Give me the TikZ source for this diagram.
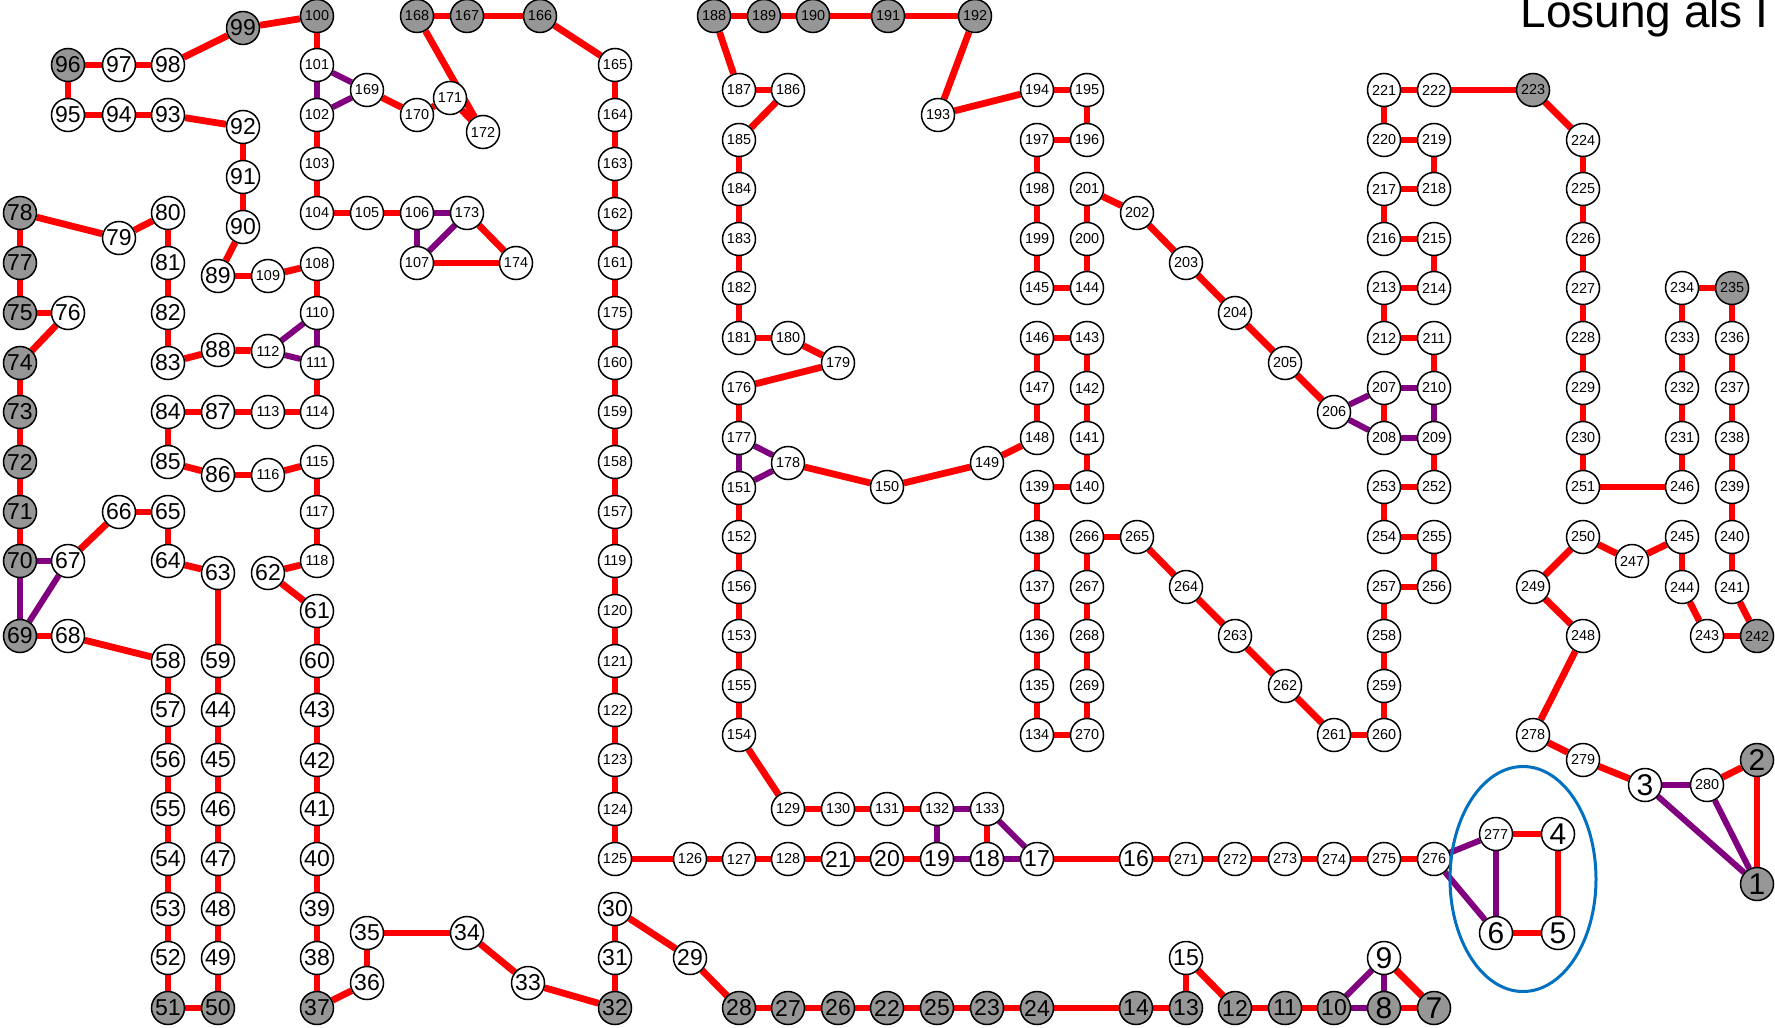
\documentclass[tikz,border=0pt]{standalone}
\usepackage{fontspec}
\setmainfont{Liberation Sans}
\usetikzlibrary{backgrounds,shapes.geometric}
\definecolor{gfill}{RGB}{150,150,150}
\definecolor{ered}{RGB}{255,0,0}
\definecolor{epur}{RGB}{128,0,128}
\definecolor{eblue}{RGB}{0,112,192}
\tikzset{
  wn/.style={circle, draw=black, line width=0.75pt, fill=white, minimum size=16.5pt, inner sep=0pt},
  gn/.style={wn, fill=gfill},
  re/.style={draw=ered, line width=3.4pt},
  pe/.style={draw=epur, line width=3pt},
}
\newcommand\mynode[4]{\node[#1] (n#2) at (#3,#4) {\ifnum#2<10 \fontsize{15}{15}\selectfont\else\ifnum#2<100 \fontsize{11.5}{11.5}\selectfont\else\fontsize{7.2}{7.2}\selectfont\fi\fi #2};}
\begin{document}
\begin{tikzpicture}[x=0.5pt,y=-0.5pt]
\useasboundingbox (0,0) rectangle (1775,1027);
\clip (0,0) rectangle (1775,1027);
\mynode{gn}{1}{1757}{884}
\mynode{gn}{2}{1757}{760}
\mynode{wn}{3}{1645}{785}
\mynode{wn}{4}{1558}{834}
\mynode{wn}{5}{1558}{933}
\mynode{wn}{6}{1496}{933}
\mynode{gn}{7}{1434}{1008}
\mynode{gn}{8}{1384}{1008}
\mynode{wn}{9}{1384}{958}
\mynode{gn}{10}{1334}{1008}
\mynode{gn}{11}{1285}{1008}
\mynode{gn}{12}{1235}{1008}
\mynode{gn}{13}{1186}{1008}
\mynode{gn}{14}{1136}{1008}
\mynode{wn}{15}{1186}{958}
\mynode{wn}{16}{1136}{859}
\mynode{wn}{17}{1037}{859}
\mynode{wn}{18}{987}{859}
\mynode{wn}{19}{937}{859}
\mynode{wn}{20}{887}{859}
\mynode{wn}{21}{838}{859}
\mynode{gn}{22}{887}{1008}
\mynode{gn}{23}{987}{1008}
\mynode{gn}{24}{1037}{1008}
\mynode{gn}{25}{937}{1008}
\mynode{gn}{26}{838}{1008}
\mynode{gn}{27}{788}{1008}
\mynode{gn}{28}{739}{1008}
\mynode{wn}{29}{690}{958}
\mynode{wn}{30}{615}{909}
\mynode{wn}{31}{615}{958}
\mynode{gn}{32}{615}{1008}
\mynode{wn}{33}{528}{983}
\mynode{wn}{34}{467}{933}
\mynode{wn}{35}{367}{933}
\mynode{wn}{36}{367}{983}
\mynode{gn}{37}{317}{1008}
\mynode{wn}{38}{317}{958}
\mynode{wn}{39}{317}{909}
\mynode{wn}{40}{317}{859}
\mynode{wn}{41}{317}{809}
\mynode{wn}{42}{317}{760}
\mynode{wn}{43}{317}{710}
\mynode{wn}{44}{218}{710}
\mynode{wn}{45}{218}{760}
\mynode{wn}{46}{218}{809}
\mynode{wn}{47}{218}{859}
\mynode{wn}{48}{218}{909}
\mynode{wn}{49}{218}{958}
\mynode{gn}{50}{218}{1008}
\mynode{gn}{51}{168}{1008}
\mynode{wn}{52}{168}{958}
\mynode{wn}{53}{168}{909}
\mynode{wn}{54}{168}{859}
\mynode{wn}{55}{168}{809}
\mynode{wn}{56}{168}{760}
\mynode{wn}{57}{168}{710}
\mynode{wn}{58}{168}{661}
\mynode{wn}{59}{218}{661}
\mynode{wn}{60}{317}{661}
\mynode{wn}{61}{317}{611}
\mynode{wn}{62}{268}{573}
\mynode{wn}{63}{218}{573}
\mynode{wn}{64}{168}{561}
\mynode{wn}{65}{168}{512}
\mynode{wn}{66}{119}{512}
\mynode{wn}{67}{68}{561}
\mynode{wn}{68}{68}{636}
\mynode{gn}{69}{20}{636}
\mynode{gn}{70}{20}{561}
\mynode{gn}{71}{20}{512}
\mynode{gn}{72}{20}{462}
\mynode{gn}{73}{20}{412}
\mynode{gn}{74}{20}{363}
\mynode{gn}{75}{20}{313}
\mynode{wn}{76}{68}{313}
\mynode{gn}{77}{20}{263}
\mynode{gn}{78}{20}{213}
\mynode{wn}{79}{119}{238}
\mynode{wn}{80}{168}{213}
\mynode{wn}{81}{168}{263}
\mynode{wn}{82}{168}{313}
\mynode{wn}{83}{168}{363}
\mynode{wn}{84}{168}{412}
\mynode{wn}{85}{168}{462}
\mynode{wn}{86}{218}{475}
\mynode{wn}{87}{218}{412}
\mynode{wn}{88}{218}{350}
\mynode{wn}{89}{218}{276}
\mynode{wn}{90}{243}{227}
\mynode{wn}{91}{243}{177}
\mynode{wn}{92}{243}{127}
\mynode{wn}{93}{168}{115}
\mynode{wn}{94}{119}{115}
\mynode{wn}{95}{68}{115}
\mynode{gn}{96}{68}{65}
\mynode{wn}{97}{119}{65}
\mynode{wn}{98}{168}{65}
\mynode{gn}{99}{243}{28}
\mynode{gn}{100}{317}{16}
\mynode{wn}{101}{317}{65}
\mynode{wn}{102}{317}{115}
\mynode{wn}{103}{317}{164}
\mynode{wn}{104}{317}{213}
\mynode{wn}{105}{367}{213}
\mynode{wn}{106}{417}{213}
\mynode{wn}{107}{417}{263}
\mynode{wn}{108}{317}{264}
\mynode{wn}{109}{268}{276}
\mynode{wn}{110}{317}{313}
\mynode{wn}{111}{317}{363}
\mynode{wn}{112}{268}{351}
\mynode{wn}{113}{268}{412}
\mynode{wn}{114}{317}{412}
\mynode{wn}{115}{317}{462}
\mynode{wn}{116}{268}{475}
\mynode{wn}{117}{317}{512}
\mynode{wn}{118}{317}{561}
\mynode{wn}{119}{615}{561}
\mynode{wn}{120}{615}{611}
\mynode{wn}{121}{615}{661}
\mynode{wn}{122}{615}{710}
\mynode{wn}{123}{615}{760}
\mynode{wn}{124}{615}{809}
\mynode{wn}{125}{615}{859}
\mynode{wn}{126}{690}{859}
\mynode{wn}{127}{739}{859}
\mynode{wn}{128}{788}{859}
\mynode{wn}{129}{788}{809}
\mynode{wn}{130}{838}{809}
\mynode{wn}{131}{887}{809}
\mynode{wn}{132}{937}{809}
\mynode{wn}{133}{987}{809}
\mynode{wn}{134}{1037}{735}
\mynode{wn}{135}{1037}{686}
\mynode{wn}{136}{1037}{636}
\mynode{wn}{137}{1037}{587}
\mynode{wn}{138}{1037}{537}
\mynode{wn}{139}{1037}{487}
\mynode{wn}{140}{1087}{487}
\mynode{wn}{141}{1087}{438}
\mynode{wn}{142}{1087}{388}
\mynode{wn}{143}{1087}{338}
\mynode{wn}{144}{1087}{288}
\mynode{wn}{145}{1037}{288}
\mynode{wn}{146}{1037}{338}
\mynode{wn}{147}{1037}{388}
\mynode{wn}{148}{1037}{438}
\mynode{wn}{149}{987}{463}
\mynode{wn}{150}{887}{487}
\mynode{wn}{151}{739}{488}
\mynode{wn}{152}{739}{537}
\mynode{wn}{153}{739}{636}
\mynode{wn}{154}{739}{735}
\mynode{wn}{155}{739}{686}
\mynode{wn}{156}{739}{587}
\mynode{wn}{157}{615}{512}
\mynode{wn}{158}{615}{462}
\mynode{wn}{159}{615}{412}
\mynode{wn}{160}{615}{363}
\mynode{wn}{161}{615}{263}
\mynode{wn}{162}{615}{214}
\mynode{wn}{163}{615}{164}
\mynode{wn}{164}{615}{115}
\mynode{wn}{165}{615}{65}
\mynode{gn}{166}{540}{16}
\mynode{gn}{167}{467}{16}
\mynode{gn}{168}{417}{16}
\mynode{wn}{169}{367}{90}
\mynode{wn}{170}{417}{115}
\mynode{wn}{171}{450}{98}
\mynode{wn}{172}{483}{132}
\mynode{wn}{173}{467}{213}
\mynode{wn}{174}{516}{263}
\mynode{wn}{175}{615}{313}
\mynode{wn}{176}{739}{388}
\mynode{wn}{177}{739}{438}
\mynode{wn}{178}{788}{463}
\mynode{wn}{179}{838}{363}
\mynode{wn}{180}{788}{338}
\mynode{wn}{181}{739}{338}
\mynode{wn}{182}{739}{288}
\mynode{wn}{183}{739}{239}
\mynode{wn}{184}{739}{189}
\mynode{wn}{185}{739}{140}
\mynode{wn}{186}{788}{90}
\mynode{wn}{187}{739}{90}
\mynode{gn}{188}{714}{16}
\mynode{gn}{189}{764}{16}
\mynode{gn}{190}{813}{16}
\mynode{gn}{191}{888}{16}
\mynode{gn}{192}{975}{16}
\mynode{wn}{193}{938}{115}
\mynode{wn}{194}{1037}{90}
\mynode{wn}{195}{1087}{90}
\mynode{wn}{196}{1087}{140}
\mynode{wn}{197}{1037}{140}
\mynode{wn}{198}{1037}{189}
\mynode{wn}{199}{1037}{239}
\mynode{wn}{200}{1087}{239}
\mynode{wn}{201}{1087}{189}
\mynode{wn}{202}{1137}{213}
\mynode{wn}{203}{1186}{263}
\mynode{wn}{204}{1235}{313}
\mynode{wn}{205}{1285}{363}
\mynode{wn}{206}{1334}{412}
\mynode{wn}{207}{1384}{388}
\mynode{wn}{208}{1384}{438}
\mynode{wn}{209}{1434}{438}
\mynode{wn}{210}{1434}{388}
\mynode{wn}{211}{1434}{338}
\mynode{wn}{212}{1384}{338}
\mynode{wn}{213}{1384}{288}
\mynode{wn}{214}{1434}{288}
\mynode{wn}{215}{1434}{239}
\mynode{wn}{216}{1384}{239}
\mynode{wn}{217}{1384}{189}
\mynode{wn}{218}{1434}{189}
\mynode{wn}{219}{1434}{140}
\mynode{wn}{220}{1384}{140}
\mynode{wn}{221}{1384}{90}
\mynode{wn}{222}{1434}{90}
\mynode{gn}{223}{1533}{90}
\mynode{wn}{224}{1583}{140}
\mynode{wn}{225}{1583}{189}
\mynode{wn}{226}{1583}{239}
\mynode{wn}{227}{1583}{288}
\mynode{wn}{228}{1583}{338}
\mynode{wn}{229}{1583}{388}
\mynode{wn}{230}{1583}{438}
\mynode{wn}{231}{1682}{438}
\mynode{wn}{232}{1682}{388}
\mynode{wn}{233}{1682}{338}
\mynode{wn}{234}{1682}{288}
\mynode{gn}{235}{1732}{288}
\mynode{wn}{236}{1732}{338}
\mynode{wn}{237}{1732}{388}
\mynode{wn}{238}{1732}{438}
\mynode{wn}{239}{1732}{487}
\mynode{wn}{240}{1732}{537}
\mynode{wn}{241}{1732}{587}
\mynode{gn}{242}{1757}{636}
\mynode{wn}{243}{1707}{636}
\mynode{wn}{244}{1682}{587}
\mynode{wn}{245}{1682}{537}
\mynode{wn}{246}{1682}{487}
\mynode{wn}{247}{1632}{561}
\mynode{wn}{248}{1583}{636}
\mynode{wn}{249}{1533}{587}
\mynode{wn}{250}{1583}{537}
\mynode{wn}{251}{1583}{487}
\mynode{wn}{252}{1434}{487}
\mynode{wn}{253}{1384}{487}
\mynode{wn}{254}{1384}{537}
\mynode{wn}{255}{1434}{537}
\mynode{wn}{256}{1434}{587}
\mynode{wn}{257}{1384}{587}
\mynode{wn}{258}{1384}{636}
\mynode{wn}{259}{1384}{686}
\mynode{wn}{260}{1384}{735}
\mynode{wn}{261}{1334}{735}
\mynode{wn}{262}{1285}{686}
\mynode{wn}{263}{1235}{636}
\mynode{wn}{264}{1186}{587}
\mynode{wn}{265}{1137}{537}
\mynode{wn}{266}{1087}{537}
\mynode{wn}{267}{1087}{587}
\mynode{wn}{268}{1087}{636}
\mynode{wn}{269}{1087}{686}
\mynode{wn}{270}{1087}{735}
\mynode{wn}{271}{1186}{859}
\mynode{wn}{272}{1235}{859}
\mynode{wn}{273}{1285}{859}
\mynode{wn}{274}{1334}{859}
\mynode{wn}{275}{1384}{859}
\mynode{wn}{276}{1434}{859}
\mynode{wn}{277}{1496}{834}
\mynode{wn}{278}{1533}{735}
\mynode{wn}{279}{1583}{760}
\mynode{wn}{280}{1707}{785}
\node[anchor=base west, inner sep=0pt, font=\fontsize{23}{23}\selectfont] (title) at (1520,28) {Losung als I};
\node[draw=eblue, line width=1.5pt, ellipse, minimum width=73pt, minimum height=112.5pt, inner sep=0pt] (ring) at (1523,879) {};
\begin{scope}[on background layer]
\fill[white] (0,0) rectangle (1775,1027);
\foreach \a/\b in {96/97,97/98,98/99,99/100,96/95,95/94,94/93,93/92,92/91,91/90,90/89,89/109,109/108,108/110,
100/101,169/170,170/171,171/172,172/168,168/167,167/166,166/165,165/164,164/163,163/162,162/161,161/175,175/160,160/159,159/158,158/157,157/119,119/120,120/121,121/122,122/123,123/124,124/125,125/126,126/127,127/128,128/21,21/20,20/19,
102/103,103/104,104/105,105/106,173/174,107/174,
78/79,79/80,80/81,81/82,82/83,83/88,88/112,78/77,77/75,75/76,76/74,74/73,73/72,72/71,71/70,69/68,68/58,67/66,66/65,65/64,64/63,63/59,59/44,44/45,45/46,46/47,47/48,48/49,49/50,50/51,51/52,52/53,53/54,54/55,55/56,56/57,57/58,
111/114,114/113,113/87,87/84,84/85,85/86,86/116,116/115,115/117,117/118,118/62,62/61,61/60,60/43,43/42,42/41,41/40,40/39,39/38,38/37,37/36,36/35,35/34,34/33,33/32,32/31,31/30,30/29,29/28,28/27,27/26,26/22,22/25,25/23,23/24,24/14,14/13,13/15,15/12,12/11,11/10,9/7,8/7,
188/189,189/190,190/191,191/192,192/193,193/194,194/195,195/196,196/197,197/198,198/199,199/145,145/144,144/200,200/201,201/202,202/203,203/204,204/205,205/206,
188/187,187/186,186/185,185/184,184/183,183/182,182/181,181/180,180/179,179/176,176/177,178/150,150/149,149/148,148/147,147/146,146/143,143/142,142/141,141/140,140/139,139/138,138/137,137/136,136/135,135/134,134/270,270/269,269/268,268/267,267/266,266/265,265/264,264/263,263/262,262/261,261/260,260/259,259/258,258/257,257/256,256/255,255/254,254/253,253/252,252/209,207/208,
151/152,152/156,156/153,153/155,155/154,154/129,129/130,130/131,131/132,133/18,17/16,16/271,271/272,272/273,273/274,274/275,275/276,277/4,4/5,5/6,
221/222,222/223,223/224,224/225,225/226,226/227,227/228,228/229,229/230,230/251,251/246,246/231,231/232,232/233,233/234,234/235,235/236,236/237,237/238,238/239,239/240,240/241,241/242,242/243,243/244,244/245,245/247,247/250,250/249,249/248,248/278,278/279,279/3,280/2,2/1,
221/220,220/219,219/218,218/217,217/216,216/215,215/214,214/213,213/212,212/211,211/210}
  {\draw[re] (n\a) -- (n\b);}
\foreach \a/\b in {101/102,101/169,102/169,106/173,106/107,107/173,110/112,110/111,112/111,70/67,70/69,67/69,177/178,177/151,151/178,132/133,132/19,133/17,19/18,18/17,206/207,206/208,207/210,210/209,208/209,3/280,3/1,280/1,276/277,276/6,277/6,10/9,10/8,9/8}
  {\draw[pe] (n\a) -- (n\b);}
\end{scope}
\end{tikzpicture}
\end{document}
